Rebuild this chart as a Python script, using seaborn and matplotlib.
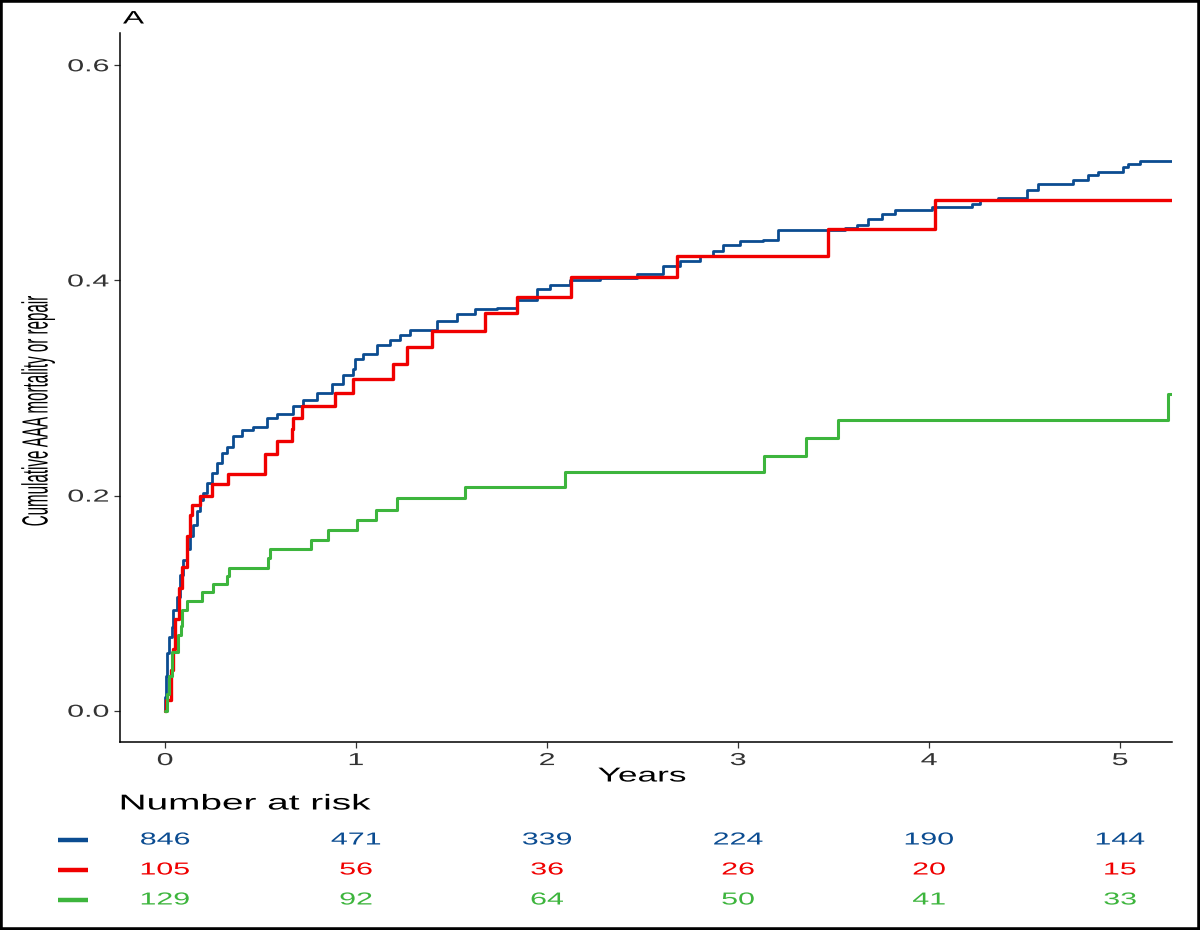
import numpy as np
import pandas as pd
import matplotlib
matplotlib.use("Agg")
import matplotlib.pyplot as plt
import seaborn as sns
from matplotlib.patches import Rectangle
from matplotlib.lines import Line2D
from matplotlib.patheffects import AbstractPathEffect
from matplotlib.transforms import Affine2D, blended_transform_factory

# cumulative incidence, step points (years, value)
BLUE_T = [0.000, 0.002, 0.006, 0.009, 0.023, 0.035, 0.043, 0.061, 0.079, 0.096,
          0.114, 0.131, 0.148, 0.166, 0.183, 0.201, 0.220, 0.245, 0.271, 0.297,
          0.323, 0.358, 0.402, 0.462, 0.532, 0.585, 0.672, 0.724, 0.794, 0.873,
          0.934, 0.986, 0.995, 1.038, 1.108, 1.178, 1.230, 1.283, 1.423, 1.527,
          1.623, 1.737, 1.841, 1.946, 2.016, 2.120, 2.277, 2.470, 2.609, 2.696,
          2.801, 2.871, 2.923, 3.010, 3.132, 3.209, 3.560, 3.622, 3.682, 3.752,
          3.822, 4.014, 4.223, 4.267, 4.363, 4.511, 4.572, 4.755, 4.834, 4.886,
          5.017, 5.043, 5.105, 5.272]
BLUE_V = [0.000, 0.013, 0.032, 0.054, 0.069, 0.078, 0.094, 0.106, 0.126, 0.140,
          0.150, 0.162, 0.173, 0.186, 0.196, 0.202, 0.212, 0.221, 0.230, 0.240,
          0.245, 0.255, 0.261, 0.264, 0.272, 0.276, 0.283, 0.289, 0.295, 0.304,
          0.312, 0.318, 0.327, 0.332, 0.340, 0.345, 0.349, 0.354, 0.362, 0.369,
          0.373, 0.374, 0.382, 0.392, 0.396, 0.400, 0.402, 0.406, 0.413, 0.418,
          0.4226, 0.427, 0.433, 0.4365, 0.4375, 0.447, 0.449, 0.452, 0.4575, 0.462,
          0.4653, 0.468, 0.471, 0.4746, 0.477, 0.484, 0.490, 0.4936, 0.4978, 0.501,
          0.505, 0.508, 0.511, 0.511]

RED_T = [0.000, 0.005, 0.031, 0.042, 0.052, 0.073, 0.091, 0.117, 0.131, 0.141,
         0.183, 0.245, 0.331, 0.524, 0.585, 0.663, 0.672, 0.716, 0.890, 0.986,
         1.195, 1.265, 1.396, 1.675, 1.845, 2.124, 2.679, 3.471, 4.030, 5.272]
RED_V = [0.000, 0.010, 0.038, 0.057, 0.085, 0.114, 0.134, 0.162, 0.182, 0.191,
         0.200, 0.211, 0.220, 0.239, 0.251, 0.262, 0.272, 0.283, 0.295, 0.308,
         0.322, 0.338, 0.353, 0.370, 0.385, 0.403, 0.4226, 0.4476, 0.4752, 0.4752]

GREEN_T = [0.000, 0.010, 0.018, 0.035, 0.068, 0.083, 0.090, 0.113, 0.191, 0.253,
           0.325, 0.335, 0.541, 0.550, 0.764, 0.851, 1.003, 1.105, 1.213, 1.571,
           2.094, 3.136, 3.356, 3.524, 5.250, 5.272]
GREEN_V = [0.000, 0.016, 0.032, 0.055, 0.070, 0.079, 0.094, 0.102, 0.110, 0.118,
           0.125, 0.133, 0.142, 0.150, 0.159, 0.168, 0.177, 0.187, 0.198, 0.208,
           0.222, 0.237, 0.254, 0.270, 0.294, 0.294]

RISK_YEARS = [0, 1, 2, 3, 4, 5]
RISK_BLUE = [846, 471, 339, 224, 190, 144]
RISK_RED = [105, 56, 36, 26, 20, 15]
RISK_GREEN = [129, 92, 64, 50, 41, 33]

Y_TICKS = [0.0, 0.2, 0.4, 0.6]
X_TICKS = [0, 1, 2, 3, 4, 5]

COLORS = {"blue": "#0B4C91", "red": "#F00000", "green": "#3DB53D"}
LWIDTH = {"blue": 2.0, "red": 2.4, "green": 2.2}
SX = 1.75  # reference image is resampled wider than tall


class Stretch(AbstractPathEffect):
    """Widen text glyphs around an anchor, to mimic the stretched reference."""

    def __init__(self, sx=1.0, sy=1.0, anchor="center"):
        super().__init__()
        self.sx, self.sy, self.anchor = sx, sy, anchor

    def draw_path(self, renderer, gc, tpath, affine, rgbFace=None):
        ext = tpath.get_extents()
        if self.anchor == "left":
            cx = ext.x0
        elif self.anchor == "right":
            cx = ext.x1
        else:
            cx = (ext.x0 + ext.x1) / 2
        cy = (ext.y0 + ext.y1) / 2
        st = Affine2D().translate(-cx, -cy).scale(self.sx, self.sy).translate(cx, cy)
        renderer.draw_path(gc, tpath, st + affine, rgbFace)


sns.set_theme(style="ticks")
plt.rcParams["font.family"] = ["Liberation Sans", "DejaVu Sans"]

curves = pd.concat([
    pd.DataFrame({"years": BLUE_T, "cuminc": BLUE_V, "group": "blue"}),
    pd.DataFrame({"years": RED_T, "cuminc": RED_V, "group": "red"}),
    pd.DataFrame({"years": GREEN_T, "cuminc": GREEN_V, "group": "green"}),
], ignore_index=True)

fig = plt.figure(figsize=(12, 9.3), dpi=100)
ax = fig.add_axes([0.1, 0.2022, 0.8767, 0.7623])

for grp in ["blue", "red", "green"]:
    sns.lineplot(data=curves[curves["group"] == grp], x="years", y="cuminc",
                 color=COLORS[grp], lw=LWIDTH[grp], drawstyle="steps-post",
                 estimator=None, legend=False, ax=ax)

ax.set_xlim(-0.236, 5.272)
ax.set_ylim(-0.029, 0.63)
ax.set_xticks(X_TICKS)
ax.set_xticklabels([str(x) for x in X_TICKS])
ax.set_yticks(Y_TICKS)
ax.set_yticklabels([f"{y:.1f}" for y in Y_TICKS])
ax.set_xlabel("")
ax.set_ylabel("")
sns.despine(ax=ax)
for side in ["left", "bottom"]:
    ax.spines[side].set_color("black")
    ax.spines[side].set_linewidth(1.1)
ax.tick_params(axis="both", length=4, width=0.9, color="#333333",
               labelcolor="#333333", labelsize=12.5, pad=4)

for lab in ax.get_xticklabels():
    lab.set_path_effects([Stretch(sx=SX, anchor="center")])
for lab in ax.get_yticklabels():
    lab.set_path_effects([Stretch(sx=SX, anchor="right")])

fig.text(38 / 1200, 1 - 411 / 930, "Cumulative AAA mortality or repair",
         rotation=90, ha="center", va="center", fontsize=10.9, color="black",
         path_effects=[Stretch(sy=2.4)])
fig.text(123 / 1200, 1 - 19 / 930, "A", ha="left", va="center",
         fontsize=13, color="black", path_effects=[Stretch(sx=SX, anchor="left")])
fig.text(642 / 1200, 1 - 776 / 930, "Years", ha="center", va="center",
         fontsize=14.5, color="black", path_effects=[Stretch(sx=SX)])

# number at risk table
fig.text(120 / 1200, 1 - 804 / 930, "Number at risk", ha="left", va="center",
         fontsize=15.5, color="black", path_effects=[Stretch(sx=1.8, anchor="left")])

trans = blended_transform_factory(ax.transData, fig.transFigure)
rows = [("blue", RISK_BLUE, 840), ("red", RISK_RED, 870), ("green", RISK_GREEN, 900)]
for grp, counts, ypx in rows:
    yf = 1 - ypx / 930
    fig.add_artist(Line2D([58 / 1200, 88 / 1200], [yf, yf], transform=fig.transFigure,
                          color=COLORS[grp], lw=3.2, solid_capstyle="butt"))
    for yr, n in zip(RISK_YEARS, counts):
        ax.text(yr, yf, str(n), transform=trans, ha="center", va="center",
                fontsize=12.5, color=COLORS[grp], clip_on=False,
                path_effects=[Stretch(sx=SX)])

# black frame around the whole picture
fig.add_artist(Rectangle((0, 0), 1, 1, transform=fig.transFigure, fill=False,
                         edgecolor="black", lw=4, clip_on=False))

fig.savefig("out.png", dpi=100)
